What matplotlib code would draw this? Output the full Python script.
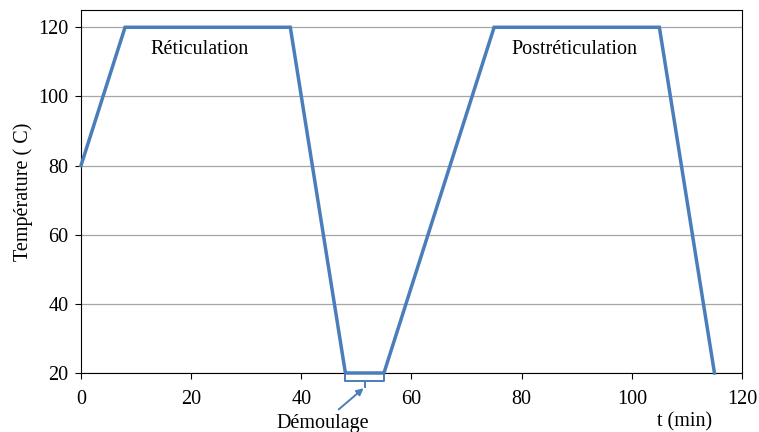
import matplotlib
matplotlib.use("Agg")
import matplotlib.pyplot as plt

plt.rcParams['font.family'] = ['Liberation Serif', 'DejaVu Serif']

# cure cycle
t_min = [0, 8, 38, 48, 55, 75, 105, 115]
temp_c = [80, 120, 120, 20, 20, 120, 120, 20]
yticks = [20, 40, 60, 80, 100, 120]
xticks = [0, 20, 40, 60, 80, 100, 120]

blue = '#4A7EBB'
fs = 14.5

fig = plt.figure(figsize=(7.59, 4.32), dpi=100)
ax = fig.add_axes([0.1067, 0.1366, 0.8709, 0.8403])

ax.plot(t_min, temp_c, color=blue, lw=2.5, solid_joinstyle='miter', clip_on=False, zorder=3)

ax.set_xlim(0, 120)
ax.set_ylim(20, 125)
ax.set_xticks(xticks)
ax.set_yticks(yticks)
ax.tick_params(direction='out', length=4, width=0.8, labelsize=fs)
ax.tick_params(axis='x', pad=8)
ax.tick_params(axis='y', pad=5)
ax.yaxis.grid(True, color='#A6A6A6', lw=0.9)
ax.set_axisbelow(True)
for s in ax.spines.values():
    s.set_linewidth(0.8)

ax.set_ylabel('Température ( C)', fontsize=fs, labelpad=4)

ax.text(21.6, 113.5, 'Réticulation', ha='center', va='center', fontsize=fs)
ax.text(89.5, 113.5, 'Postréticulation', ha='center', va='center', fontsize=fs)
ax.text(109.5, 5.8, 't (min)', ha='center', va='center', fontsize=fs, clip_on=False)

# bracket under demoulding step
bx = [48, 48, 55, 55]
by = [19.4, 17.6, 17.6, 19.4]
ax.plot(bx, by, color=blue, lw=1.4, clip_on=False)
ax.plot([51.5, 51.5], [17.6, 15.9], color=blue, lw=1.4, clip_on=False)
ax.annotate('Démoulage', xy=(51.3, 15.6), xytext=(43.8, 5.4),
            ha='center', va='center', fontsize=fs,
            annotation_clip=False,
            arrowprops=dict(arrowstyle='-|>', color=blue, lw=1.4,
                            shrinkA=2, shrinkB=0, mutation_scale=10))

fig.savefig('out.png', dpi=100)
